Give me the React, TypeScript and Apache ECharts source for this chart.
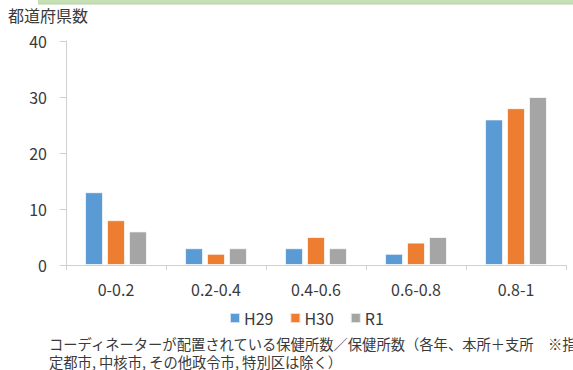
import React, { useEffect, useRef } from "react";
import * as echarts from "echarts";

const categories = ["0-0.2", "0.2-0.4", "0.4-0.6", "0.6-0.8", "0.8-1"];
const seriesNames = ["H29", "H30", "R1"];
const h29 = [13, 3, 3, 2, 26];
const h30 = [8, 2, 5, 4, 28];
const r1 = [6, 3, 3, 5, 30];
const colors = ["#5B9BD5", "#ED7D31", "#A5A5A5"];
const yTitle = "都道府県数";
const noteLine1 = "コーディネーターが配置されている保健所数／保健所数（各年、本所＋支所　※指";
const noteLine2 = "定都市, 中核市, その他政令市, 特別区は除く）";

const FONT = "'Noto Sans CJK JP', 'Noto Sans', sans-serif";
const TEXT = "#3a3a3a";

export default function App() {
  const ref = useRef<HTMLDivElement>(null);

  useEffect(() => {
    if (!ref.current) return;
    const chart = echarts.init(ref.current, undefined, { renderer: "svg" });
    const values = [h29, h30, r1];
    chart.setOption({
      animation: false,
      textStyle: { fontFamily: FONT },
      grid: { left: 66, right: 7, top: 41, bottom: 105 },
      legend: {
        data: seriesNames,
        left: 224,
        top: 305,
        itemWidth: 10,
        itemHeight: 10,
        itemGap: 16,
        icon: "rect",
        textStyle: { fontSize: 16, color: TEXT, fontFamily: FONT, padding: [0, 0, 0, -1] },
      },
      xAxis: {
        type: "category",
        data: categories,
        axisLine: { lineStyle: { color: "#D0D0D0", width: 1 } },
        axisTick: { show: true, length: 5, lineStyle: { color: "#D0D0D0" } },
        axisLabel: { fontSize: 16, color: TEXT, margin: 16, fontFamily: FONT },
      },
      yAxis: {
        type: "value",
        min: 0,
        max: 40,
        interval: 10,
        splitLine: { show: false },
        axisLine: { show: true, lineStyle: { color: "#D0D0D0", width: 1 } },
        axisTick: { show: true, length: 6, lineStyle: { color: "#D0D0D0" } },
        axisLabel: { fontSize: 16, color: TEXT, margin: 19, fontFamily: FONT },
      },
      series: seriesNames.map((name, i) => ({
        name,
        type: "bar",
        data: values[i],
        barWidth: 18,
        barGap: "22%",
        itemStyle: { color: colors[i], borderColor: "rgba(255,255,255,0.7)", borderWidth: 1 },
      })),
      graphic: [
        {
          type: "rect",
          shape: { x: 38, y: 0, width: 540, height: 4 },
          style: { fill: "#C5E0B4" },
        },
        {
          type: "line",
          shape: { x1: 38, y1: 4, x2: 573, y2: 4 },
          style: { stroke: "#B2D4A0", lineWidth: 1 },
        },
        {
          type: "text",
          left: 8,
          top: 7,
          style: { text: yTitle, fontSize: 16, fill: TEXT, fontFamily: FONT },
        },
        {
          type: "text",
          left: 49,
          top: 335,
          style: { text: noteLine1, fontSize: 14.3, lineHeight: 16, fill: TEXT, fontFamily: FONT },
        },
        {
          type: "text",
          left: 49,
          top: 353,
          style: { text: noteLine2, fontSize: 14.3, lineHeight: 16, fill: TEXT, fontFamily: FONT },
        },
      ],
    });
    return () => chart.dispose();
  }, []);

  return <div ref={ref} style={{ width: 573, height: 370, position: "absolute", left: 0, top: 0 }} />;
}
